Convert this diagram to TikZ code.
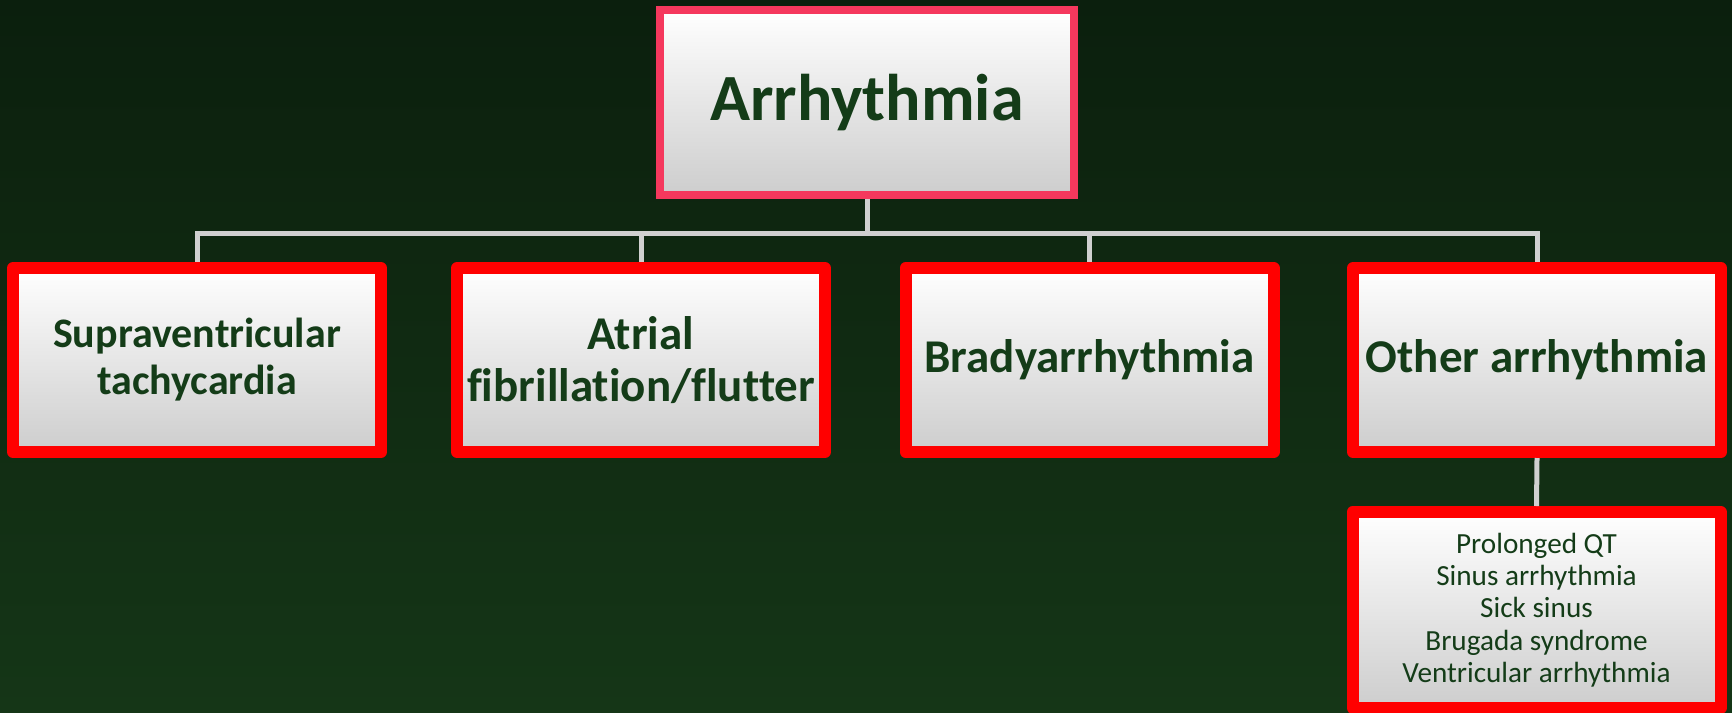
\documentclass[tikz,border=0pt]{standalone}
\usepackage{fontspec}
\setmainfont{Carlito}[Ligatures={NoCommon}]
\usepackage{tikz}
\usepackage{xcolor}
\definecolor{bgtop}{HTML}{0B1F0D}
\definecolor{bgbot}{HTML}{153617}
\definecolor{boxred}{HTML}{FF0000}
\definecolor{rootred}{HTML}{F5385D}
\definecolor{textgreen}{HTML}{143C18}
\definecolor{boxgray}{HTML}{CDCDCD}
\definecolor{linkgray}{HTML}{D0D0D0}

\begin{document}
\begin{tikzpicture}[x=0.5pt, y=-0.5pt,
  every node/.style={inner sep=0pt, align=center, text=textgreen},
  catbox/.style={draw=boxred, line width=6pt, line join=round,
    top color=white, middle color=white!92!boxgray, bottom color=boxgray,
    minimum width=184pt, minimum height=92pt},
  rootbox/.style={draw=rootred, line width=4pt, line join=miter,
    top color=white, middle color=white!92!boxgray, bottom color=boxgray,
    minimum width=207pt, minimum height=92.5pt},
  link/.style={draw=linkgray, line width=2.5pt}]
% === Background ===
\clip (0,0) rectangle (1732,712);
\shade[top color=bgtop, bottom color=bgbot] (0,0) rectangle (1732,712);

% === Root ===
\node[rootbox, font=\bfseries\fontsize{33}{36}\selectfont] (root) at (867,102.5) {Arrhythmia};

% === Categories ===
\node[catbox, font=\bfseries\fontsize{21}{23.5}\selectfont] (svt) at (197,360) {Supraventricular\\tachycardia};
\node[catbox, font=\bfseries\fontsize{23.5}{26}\selectfont] (af) at (641,360) {Atrial\\fibrillation/flutter};
\node[catbox, font=\bfseries\fontsize{23.5}{26}\selectfont] (brady) at (1089.5,360) {Bradyarrhythmia};
\node[catbox, font=\bfseries\fontsize{23.5}{26}\selectfont] (other) at (1537,360) {Other arrhythmia};

% Other arrhythmia: list
\node[catbox, minimum height=98pt, font=\fontsize{14.6}{16.15}\selectfont] (list) at (1536.5,610)
  {Prolonged QT\\Sinus arrhythmia\\Sick sinus\\Brugada syndrome\\Ventricular arrhythmia};

% === Links ===
\foreach \b in {svt,af,brady,other}
  \draw[link] (root.south) -- ++(0,34) -| (\b.north);
\draw[link] (other.south) -- (list.north);
\end{tikzpicture}
\end{document}
